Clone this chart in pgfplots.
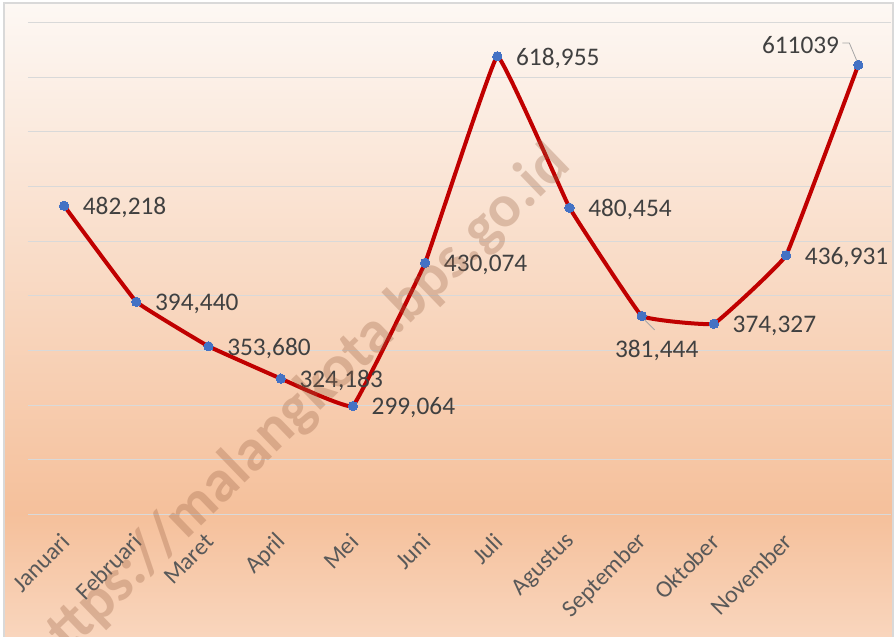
\documentclass[border=0pt]{standalone}
\usepackage{pgfplots}
\pgfplotsset{compat=1.18}
\usepackage{fontspec}
\setmainfont{Carlito}
\definecolor{bgtop}{RGB}{253,248,244}
\definecolor{bgmid}{RGB}{245,192,155}
\definecolor{bgbot}{RGB}{249,214,190}
\definecolor{linered}{RGB}{192,0,0}
\definecolor{mkblue}{RGB}{68,114,196}
\definecolor{lbl}{RGB}{64,64,64}
\definecolor{tickc}{RGB}{89,89,89}
\definecolor{gridc}{RGB}{217,217,217}
\definecolor{wm}{RGB}{150,95,65}
\tikzset{lab/.style={anchor=west, inner sep=0pt, xshift=13.9pt, yshift=-1.5pt, text=lbl, font=\fontsize{19}{21}\selectfont}}
\begin{document}
\begin{tikzpicture}
\begin{scope}[x=0.75pt,y=-0.75pt]
\path[use as bounding box] (0,0) rectangle (896,636);
\clip (0,0) rectangle (896,636);
\fill[white] (0,0) rectangle (896,636);
\shade[top color=bgtop,bottom color=bgmid] (4,3) rectangle (893,514);
\shade[top color=bgmid,bottom color=bgbot] (4,514) rectangle (893,640);
\draw[gridc, line width=0.9pt] (4,640) -- (4,3) -- (893,3) -- (893,640);
\end{scope}
\begin{axis}[
  at={(21pt,-385.75pt)}, anchor=south west,
  scale only axis, width=647.1pt, height=369pt,
  xmin=-0.5, xmax=11.45, ymin=200000, ymax=650000,
  scaled y ticks=false,
  ytick={200000,250000,...,650000}, yticklabels={},
  ymajorgrids, grid style={gridc, line width=0.75pt},
  axis line style={draw=none}, major tick length=0pt,
  xtick={0,...,10},
  xticklabels={Januari,Februari,Maret,April,Mei,Juni,Juli,Agustus,September,Oktober,November},
  xticklabel style={rotate=45, anchor=east, inner sep=0pt, font=\fontsize{18}{20}\selectfont, text=tickc, xshift=-11.5pt, yshift=-13.3pt},
  clip=false,
]
\addplot[linered, line width=3pt, smooth, tension=0.12, mark=*, mark size=3.5pt,
  mark options={fill=mkblue, draw=mkblue, line width=0pt, solid}]
  coordinates {(0,482218)(1,394440)(2,353680)(3,324183)(4,299064)(5,430074)
               (6,618955)(7,480454)(8,381444)(9,374327)(10,436931)(11,611039)};
\node[lab] at (axis cs:0,482218) {482,218};
\node[lab] at (axis cs:1,394440) {394,440};
\node[lab] at (axis cs:2,353680) {353,680};
\node[lab] at (axis cs:3,324183) {324,183};
\node[lab] at (axis cs:4,299064) {299,064};
\node[lab] at (axis cs:5,430074) {430,074};
\node[lab] at (axis cs:6,618955) {618,955};
\node[lab] at (axis cs:7,480454) {480,454};
\node[lab, anchor=center, xshift=-2.65pt, yshift=-24.5pt] at (axis cs:8,381444) {381,444};
\draw[gray!70, line width=0.6pt] ([xshift=2.25pt,yshift=-3pt]axis cs:8,381444) -- ([xshift=9.75pt,yshift=-10.5pt]axis cs:8,381444);
\node[lab] at (axis cs:9,374327) {374,327};
\node[lab] at (axis cs:10,436931) {436,931};
\node[lab, anchor=east, xshift=-28.15pt, yshift=16.5pt] at (axis cs:11,611039) {611039};
\draw[gray!70, line width=0.6pt] ([xshift=-12pt,yshift=16.5pt]axis cs:11,611039) -- ([xshift=-6.75pt,yshift=16.5pt]axis cs:11,611039) -- ([xshift=-0.75pt,yshift=2.25pt]axis cs:11,611039);
\end{axis}
\begin{scope}[x=0.75pt,y=-0.75pt]
\clip (0,0) rectangle (896,636);
\node[rotate=44, font=\bfseries\fontsize{45}{50}\selectfont, text=wm, text opacity=0.3] at (298,410) {https://malangkota.bps.go.id};
\end{scope}
\end{tikzpicture}
\end{document}
